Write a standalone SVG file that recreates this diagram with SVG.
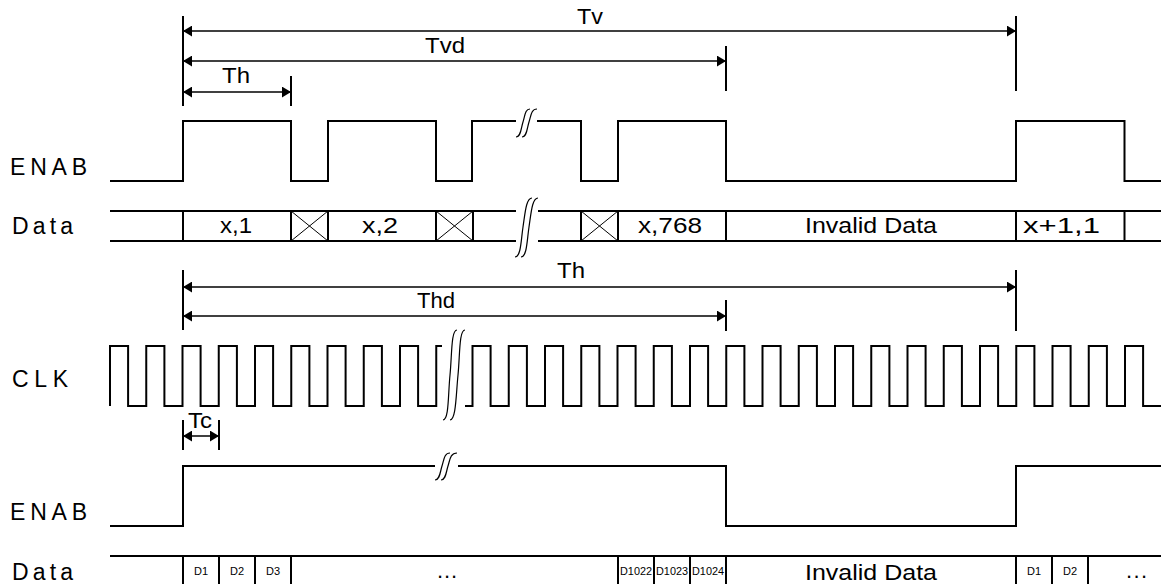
<svg xmlns="http://www.w3.org/2000/svg" width="1161" height="584" viewBox="0 0 1161 584">
<style>
.sig{fill:none;stroke:#000;stroke-width:2;stroke-linejoin:miter}
.thin{fill:none;stroke:#000;stroke-width:1}
.dim{fill:none;stroke:#000;stroke-width:1.6}
.tick{fill:none;stroke:#000;stroke-width:2}
.t{font-family:"Liberation Sans",Arial,sans-serif;font-size:22px;fill:#000}
.lbl{font-family:"Liberation Sans",Arial,sans-serif;font-size:23px;fill:#000}
.s{font-family:"Liberation Sans",Arial,sans-serif;font-size:11px;fill:#000;text-anchor:middle}
.sq{fill:none;stroke:#000;stroke-width:1.2}
</style>
<defs>
<marker id="ah" viewBox="0 0 10 12" refX="10" refY="6" markerWidth="9" markerHeight="11" markerUnits="userSpaceOnUse" orient="auto-start-reverse">
<path d="M0,0 L10,6 L0,12 Z" fill="#000"/>
</marker>
</defs>
<rect width="1161" height="584" fill="#fff"/>

<g id="labels">
<text class="lbl" x="10" y="175" textLength="77" lengthAdjust="spacing">ENAB</text>
<text class="lbl" x="12" y="234" textLength="61" lengthAdjust="spacing">Data</text>
<text class="lbl" x="12" y="387" textLength="56" lengthAdjust="spacing">CLK</text>
<text class="lbl" x="10" y="520" textLength="77" lengthAdjust="spacing">ENAB</text>
<text class="lbl" x="12" y="580" textLength="61" lengthAdjust="spacing">Data</text>
</g>

<g id="enab-top">
<path class="sig" d="M110,181 H183 V121 H291 V181 H328 V121 H436 V181 H472 V121 H516"/>
<path class="sig" d="M537,121 H581 V181 H618 V121 H726 V181 H1016 V121 H1124.5 V181 H1161"/>
<path class="sq" d="M516,137 C521,137 521,128 523,122 S525,109 530,109"/>
<path class="sq" d="M522,137 C527,137 527,128 529,122 S531,109 537,109"/>
</g>

<g id="data-top">
<path class="sig" d="M110,211 H516 M110,241 H516 M538,211 H1161 M538,241 H1161"/>
<path class="sig" d="M183,211 V241 M291,211 V241 M328,211 V241 M436,211 V241 M473,211 V241 M581,211 V241 M618,211 V241 M726,211 V241 M1016,211 V241 M1124.5,211 V241"/>
<path class="thin" d="M291,211 L328,241 M328,211 L291,241 M436,211 L473,241 M473,211 L436,241 M581,211 L618,241 M618,211 L581,241"/>
<path class="sq" d="M515,257 C521,257 521,240 523,227 S526,198 532,198"/>
<path class="sq" d="M521,257 C527,257 527,240 529,227 S532,198 538,198"/>
<text class="t" x="220" y="233" textLength="32" lengthAdjust="spacingAndGlyphs">x,1</text>
<text class="t" x="362" y="233" textLength="36" lengthAdjust="spacingAndGlyphs">x,2</text>
<text class="t" x="638" y="233" textLength="64" lengthAdjust="spacingAndGlyphs">x,768</text>
<text class="t" x="805" y="233" textLength="132" lengthAdjust="spacingAndGlyphs">Invalid Data</text>
<text class="t" x="1023" y="233" textLength="77" lengthAdjust="spacingAndGlyphs">x+1,1</text>
</g>

<g id="clk">
<path class="sig" d="M110,406 V346 H128.1 V406 H146.25 V346 H164.4 V406 H182.5 V346 H200.6 V406 H218.75 V346 H236.9 V406 H255 V346 H273.1 V406 H291.25 V346 H309.4 V406 H327.5 V346 H345.6 V406 H363.75 V346 H381.9 V406 H400 V346 H418.1 V406 H436.25 V346 H442"/>
<path class="sig" d="M465,406 H472.5 V346 H490.6 V406 H508.75 V346 H526.9 V406 H545 V346 H563.1 V406 H581.25 V346 H599.4 V406 H617.5 V346 H635.6 V406 H653.75 V346 H671.9 V406 H690 V346 H708.1 V406 H726.25 V346 H744.4 V406 H762.5 V346 H780.6 V406 H798.75 V346 H816.9 V406 H835 V346 H853.1 V406 H871.25 V346 H889.4 V406 H907.5 V346 H925.6 V406 H943.75 V346 H961.9 V406 H980 V346 H998.1 V406 H1016.25 V346 H1034.4 V406 H1052.5 V346 H1070.6 V406 H1088.75 V346 H1106.9 V406 H1125 V346 H1143.1 V406 H1161"/>
<path class="sq" d="M443,420 C449,420 448,395 450,375 S451,330 457,330"/>
<path class="sq" d="M450,420 C456,420 456,395 458,375 S459,330 465,330"/>
</g>

<g id="enab-bottom">
<path class="sig" d="M110,526 H183 V466 H435"/>
<path class="sig" d="M458,466 H726 V526 H1016 V466 H1161"/>
<path class="sq" d="M435,480 C440,480 440,472 442,466 S444,453 450,453"/>
<path class="sq" d="M441,480 C446,480 446,472 448,466 S450,453 457,453"/>
</g>

<g id="data-bottom">
<path class="sig" d="M110,556 H1161"/>
<path class="sig" d="M183,556 V584 M219,556 V584 M255,556 V584 M291,556 V584 M618,556 V584 M654,556 V584 M690,556 V584 M726,556 V584 M1016,556 V584 M1052,556 V584 M1088,556 V584"/>
<text class="s" x="201" y="575">D1</text>
<text class="s" x="237" y="575">D2</text>
<text class="s" x="273" y="575">D3</text>
<text class="s" x="636" y="575" textLength="32" lengthAdjust="spacingAndGlyphs">D1022</text>
<text class="s" x="672" y="575" textLength="32" lengthAdjust="spacingAndGlyphs">D1023</text>
<text class="s" x="708" y="575" textLength="32" lengthAdjust="spacingAndGlyphs">D1024</text>
<text class="s" x="1034" y="575">D1</text>
<text class="s" x="1070" y="575">D2</text>
<text class="t" x="437" y="578" textLength="20" lengthAdjust="spacing">...</text>
<text class="t" x="805" y="580" textLength="132" lengthAdjust="spacingAndGlyphs">Invalid Data</text>
<text class="t" x="1126" y="578" textLength="21" lengthAdjust="spacing">...</text>
</g>

<g id="connectors">
<path class="tick" d="M183,16 V106 M1016,16 V91 M726,46 V91 M291,76 V106"/>
<line class="dim" x1="183" y1="31" x2="1016" y2="31" marker-start="url(#ah)" marker-end="url(#ah)"/>
<line class="dim" x1="183" y1="61" x2="726" y2="61" marker-start="url(#ah)" marker-end="url(#ah)"/>
<line class="dim" x1="183" y1="92" x2="291" y2="92" marker-start="url(#ah)" marker-end="url(#ah)"/>
<text class="t" x="577" y="24" textLength="26" lengthAdjust="spacingAndGlyphs">Tv</text>
<text class="t" x="425" y="53" textLength="40" lengthAdjust="spacingAndGlyphs">Tvd</text>
<text class="t" x="222" y="83" textLength="28" lengthAdjust="spacingAndGlyphs">Th</text>

<path class="tick" d="M183,270 V330 M1016,270 V331 M726,300 V331"/>
<line class="dim" x1="183" y1="287" x2="1016" y2="287" marker-start="url(#ah)" marker-end="url(#ah)"/>
<line class="dim" x1="183" y1="316" x2="726" y2="316" marker-start="url(#ah)" marker-end="url(#ah)"/>
<text class="t" x="557" y="278" textLength="28" lengthAdjust="spacingAndGlyphs">Th</text>
<text class="t" x="417" y="308" textLength="38" lengthAdjust="spacingAndGlyphs">Thd</text>

<path class="tick" d="M183,420 V450 M219,420 V450"/>
<line class="dim" x1="183" y1="436" x2="219" y2="436" marker-start="url(#ah)" marker-end="url(#ah)"/>
<text class="t" x="188" y="428" textLength="24" lengthAdjust="spacingAndGlyphs">Tc</text>
</g>
</svg>
